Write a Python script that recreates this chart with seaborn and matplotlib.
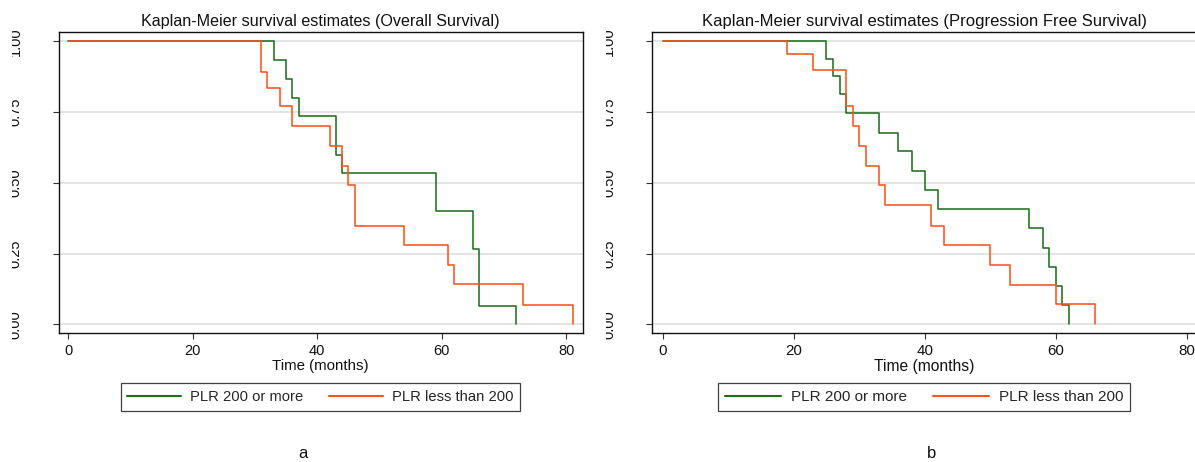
import matplotlib
matplotlib.use("Agg")
import matplotlib.pyplot as plt
import seaborn as sns
from matplotlib.transforms import Bbox, TransformedBbox

# ---------------- data ----------------
os_green_t = [0, 33, 35, 36, 37, 43, 44, 59, 65, 66, 72]
os_green_s = [1.0, 0.935, 0.868, 0.801, 0.735, 0.599, 0.534, 0.400, 0.266, 0.066, 0.0]
os_orange_t = [0, 31, 32, 34, 36, 42, 44, 45, 46, 54, 61, 62, 73, 81]
os_orange_s = [1.0, 0.892, 0.835, 0.771, 0.701, 0.630, 0.561, 0.492, 0.349, 0.280, 0.210, 0.141, 0.069, 0.0]

pfs_green_t = [0, 25, 26, 27, 28, 33, 36, 38, 40, 42, 56, 58, 59, 60, 61, 62]
pfs_green_s = [1.0, 0.939, 0.876, 0.813, 0.746, 0.676, 0.611, 0.541, 0.474, 0.406, 0.339, 0.271, 0.204, 0.135, 0.067, 0.0]
pfs_orange_t = [0, 19, 23, 28, 29, 30, 31, 33, 34, 41, 43, 50, 53, 60, 66]
pfs_orange_s = [1.0, 0.955, 0.898, 0.770, 0.700, 0.629, 0.560, 0.491, 0.421, 0.349, 0.279, 0.210, 0.140, 0.071, 0.0]

group_labels = ["PLR 200 or more", "PLR less than 200"]
titles = ["Kaplan-Meier survival estimates (Overall Survival)",
          "Kaplan-Meier survival estimates (Progression Free Survival)"]
panel_letters = ["a", "b"]
x_ticks = [0, 20, 40, 60, 80]
y_ticks = [0.0, 0.25, 0.5, 0.75, 1.0]
y_ticklabels = ["0.00", "0.25", "0.50", "0.75", "1.00"]
x_label = "Time (months)"

# ---------------- style ----------------
sns.set_theme(style="white")
plt.rcParams["font.family"] = ["Liberation Sans", "DejaVu Sans"]

GREEN = "#1f6f1f"
ORANGE = "#ff531a"
W, H = 1195, 462
fig = plt.figure(figsize=(W / 100, H / 100), dpi=100)

panels = [
    dict(rect=[58.6, 31.5, 582.5, 333.3], xlim=(-1.53, 82.6), clip_x=11.7,
         data=[(os_green_t, os_green_s), (os_orange_t, os_orange_s)],
         letter_x=303.3, title_size=11.6, scale=1.0),
    dict(rect=[652.4, 31.5, 1196.0, 333.3], xlim=(-1.57, 81.42), clip_x=605.5,
         data=[(pfs_green_t, pfs_green_s), (pfs_orange_t, pfs_orange_s)],
         letter_x=931.4, title_size=12.0, scale=1.04),
]

for i, p in enumerate(panels):
    x0, y0, x1, y1 = p["rect"]
    sc = p["scale"]
    ax = fig.add_axes([x0 / W, 1 - y1 / H, (x1 - x0) / W, (y1 - y0) / H])
    for yv in y_ticks:
        ax.axhline(yv, color="#e2e2e2", lw=1.3, zorder=0)
    for (t, s), col, lab in zip(p["data"], [GREEN, ORANGE], group_labels):
        sns.lineplot(x=t, y=s, ax=ax, color=col, linewidth=1.15,
                     drawstyle="steps-post", estimator=None, sort=False,
                     label=lab, zorder=3)
    ax.set_xlim(*p["xlim"])
    ax.set_ylim(-0.032, 1.035)
    ax.set_xticks(x_ticks)
    ax.set_yticks(y_ticks)
    ax.set_yticklabels(y_ticklabels)
    ax.set_ylabel("")
    ax.set_xlabel(x_label, fontsize=10.8 * sc, labelpad=0.3, color="#111111")
    ax.set_title(titles[i], fontsize=p["title_size"], pad=4.0, color="#111111")
    for sp in ax.spines.values():
        sp.set_visible(True)
        sp.set_color("#111111")
        sp.set_linewidth(1.0)
    ax.tick_params(axis="x", direction="out", length=4.3, width=0.8, color="#333333",
                   labelsize=10.5 * sc, pad=3.5, labelcolor="#111111", bottom=True)
    ax.tick_params(axis="y", direction="out", length=4.0, width=0.8, color="#333333",
                   labelsize=10.5, pad=22.0, labelcolor="#111111", left=True)
    clipbox = TransformedBbox(Bbox.from_extents(p["clip_x"] / W, 0, 1, 1), fig.transFigure)
    for lbl in ax.get_yticklabels():
        lbl.set_rotation(90)
        lbl.set_va("center")
        lbl.set_ha("right")
        lbl.set_clip_box(clipbox)
        lbl.set_clip_on(True)
    leg = ax.legend(loc="center", bbox_to_anchor=(0.5, -0.211), ncol=2, fontsize=10.6 * sc,
                    frameon=True, fancybox=False, shadow=False, handlelength=3.67,
                    handletextpad=0.61, columnspacing=1.74, borderpad=0.45)
    leg.get_frame().set_edgecolor("#111111")
    leg.get_frame().set_linewidth(0.9)
    for h in leg.get_lines():
        h.set_linewidth(1.5)
    fig.text(p["letter_x"] / W, 1 - 458 / H, panel_letters[i], ha="center",
             va="baseline", fontsize=12, color="#111111")

fig.savefig("out.png", dpi=100, facecolor="white")
